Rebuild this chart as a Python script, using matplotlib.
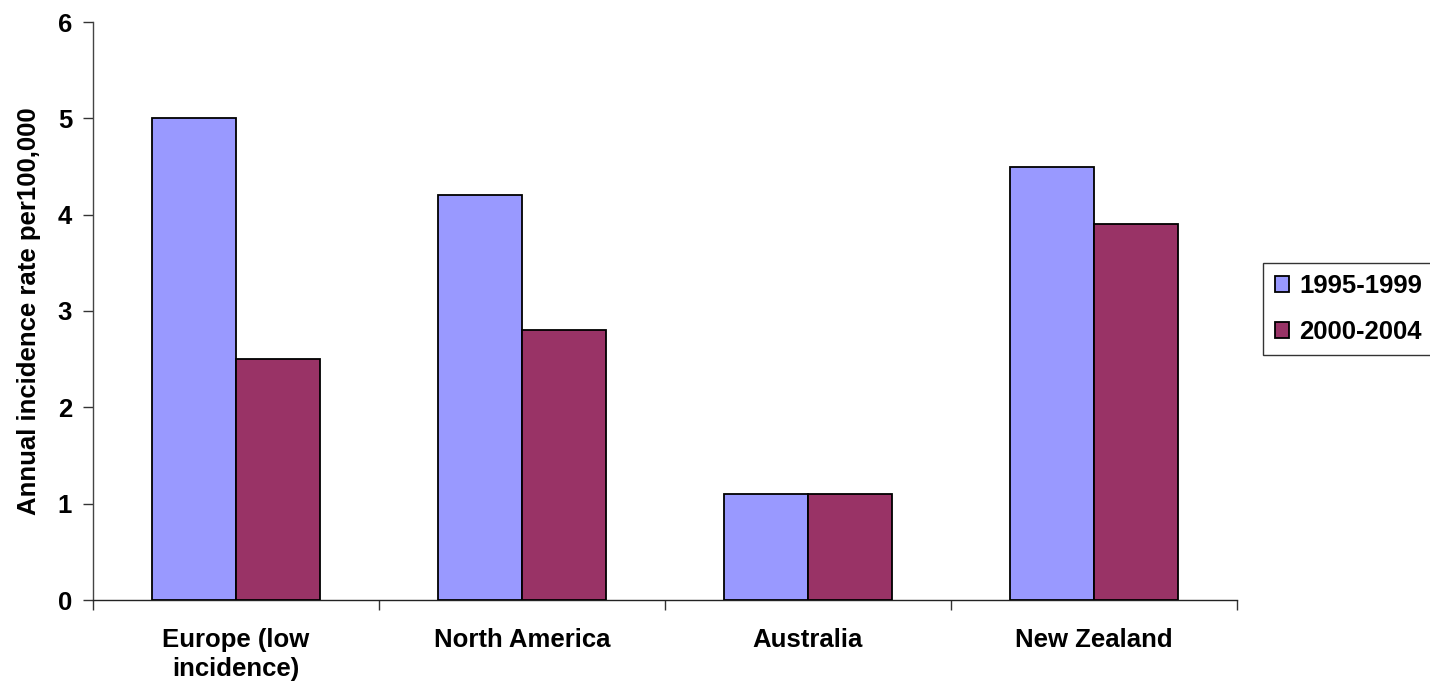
import matplotlib
matplotlib.use("Agg")
import matplotlib.pyplot as plt
import numpy as np

regions = ["Europe (low\nincidence)", "North America", "Australia", "New Zealand"]
series_labels = ["1995-1999", "2000-2004"]
rates_1995_1999 = [5.0, 4.2, 1.1, 4.5]
rates_2000_2004 = [2.5, 2.8, 1.1, 3.9]
y_ticks = [0, 1, 2, 3, 4, 5, 6]

plt.rcParams["font.family"] = ["Liberation Sans", "DejaVu Sans"]
plt.rcParams["font.weight"] = "bold"
FS = 18.5

fig = plt.figure(figsize=(14.3, 6.87), dpi=100)
ax = fig.add_axes([93 / 1430, 87 / 687, (1237 - 93) / 1430, (600 - 22) / 687])

x = np.arange(len(regions))
w = 0.294
ax.bar(x - w / 2, rates_1995_1999, width=w, color="#9999FF", edgecolor="black",
       linewidth=1.3, label=series_labels[0], zorder=3)
ax.bar(x + w / 2, rates_2000_2004, width=w, color="#993366", edgecolor="black",
       linewidth=1.3, label=series_labels[1], zorder=3)

ax.set_xlim(-0.5, len(regions) - 0.5)
ax.set_ylim(0, 6)
ax.set_yticks(y_ticks)
ax.set_yticklabels([str(t) for t in y_ticks], fontsize=FS, fontweight="bold")

ax.set_xticks(x)
ax.set_xticklabels(regions, fontsize=FS, fontweight="bold", linespacing=1.3)
ax.tick_params(axis="x", which="major", length=0, pad=20)
ax.set_xticks(np.arange(-0.5, len(regions), 1.0), minor=True)
ax.tick_params(axis="x", which="minor", length=7, width=1, color="#333333")
ax.tick_params(axis="y", length=7, width=1, color="#333333", pad=8)

for side in ("top", "right"):
    ax.spines[side].set_visible(False)
ax.spines["left"].set_color("#444444")
ax.spines["bottom"].set_color("#222222")
ax.spines["left"].set_linewidth(1)
ax.spines["bottom"].set_linewidth(1)

ax.set_ylabel("Annual incidence rate per100,000", fontsize=FS, fontweight="bold",
              labelpad=12)

leg = ax.legend(loc="center left", bbox_to_anchor=(1263 / 1430, 1 - 309 / 687),
                bbox_transform=fig.transFigure, frameon=True, fancybox=False,
                shadow=False, fontsize=FS, handlelength=0.55, handleheight=0.55,
                handletextpad=0.4, borderpad=0.45, labelspacing=0.85,
                borderaxespad=0)
for t in leg.get_texts():
    t.set_fontweight("bold")
leg.get_frame().set_edgecolor("black")
leg.get_frame().set_linewidth(1)

fig.savefig("out.png", dpi=100)
